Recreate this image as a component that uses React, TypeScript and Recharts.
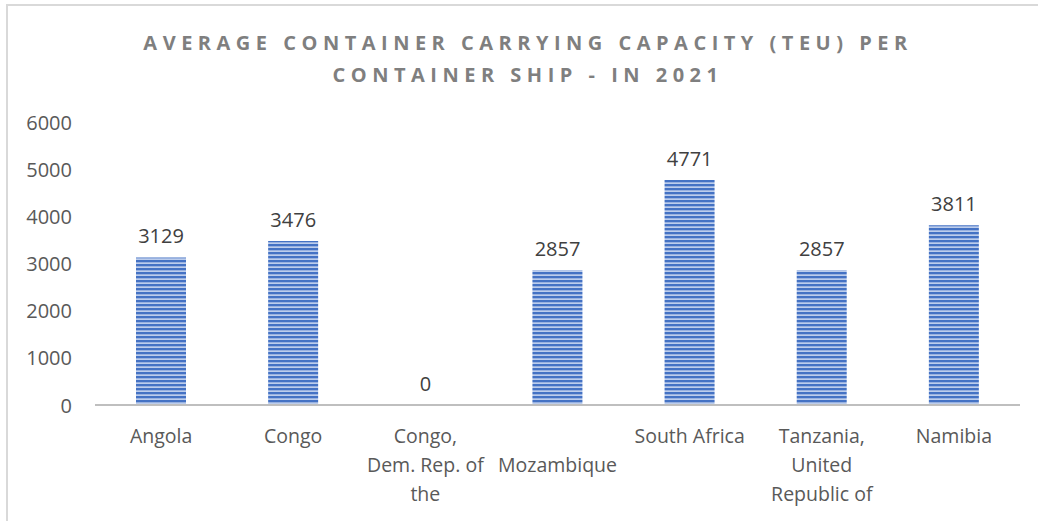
import { ComposedChart, Bar, Line, XAxis, YAxis, LabelList } from 'recharts';

const countries = [
  'Angola',
  'Congo',
  'Congo,\nDem. Rep. of\nthe',
  '\nMozambique',
  'South Africa',
  'Tanzania,\nUnited\nRepublic of',
  'Namibia',
];
const teu = [3129, 3476, 0, 2857, 4771, 2857, 3811];
const yTicks = [0, 1000, 2000, 3000, 4000, 5000, 6000];

const data = countries.map((name, i) => ({ name, teu: teu[i] }));

const FONT = '"Open Sans", sans-serif';

const CountryTick = (props: any) => {
  const { x, y, payload } = props;
  const lines = String(payload.value).split('\n');
  return (
    <text x={x} y={y + 30} textAnchor="middle" fill="#595959" fontSize={19.5} fontFamily={FONT}>
      {lines.map((l: string, i: number) => (
        <tspan key={i} x={x} dy={i === 0 ? 0 : 29}>
          {l}
        </tspan>
      ))}
    </text>
  );
};

const ValueTick = (props: any) => {
  const { y, payload } = props;
  return (
    <text x={72} y={y} textAnchor="end" dominantBaseline="central" fill="#595959" fontSize={20} fontFamily={FONT}>
      {payload.value}
    </text>
  );
};

export default function App() {
  return (
    <div style={{ position: 'absolute', left: 0, top: 0, width: 1038, height: 521, background: '#fff', overflow: 'hidden' }}>
      <div
        style={{
          position: 'absolute',
          left: 6,
          top: 4,
          right: -4,
          bottom: -4,
          borderLeft: '2px solid #d9d9d9',
          borderTop: '2px solid #d9d9d9',
        }}
      />
      <div
        style={{
          position: 'absolute',
          left: 0,
          width: 1056,
          top: 27,
          textAlign: 'center',
          fontFamily: FONT,
          fontWeight: 700,
          fontSize: 20,
          letterSpacing: 5.5,
          lineHeight: '32px',
          color: '#7f7f7f',
        }}
      >
        AVERAGE CONTAINER CARRYING CAPACITY (TEU) PER
        <br />
        CONTAINER SHIP - IN 2021
      </div>
      <ComposedChart
        width={1038}
        height={521}
        data={data}
        margin={{ top: 122, right: 18, bottom: 0, left: 0 }}
        barSize={50}
        style={{ position: 'absolute', left: 0, top: 0 }}
      >
        <defs>
          <pattern id="stripes" width="4" height="4" patternUnits="userSpaceOnUse">
            <rect width="4" height="4" fill="#bccdec" />
            <rect width="4" height="2.3" fill="#4472c4" />
          </pattern>
        </defs>
        <XAxis
          dataKey="name"
          interval={0}
          height={116}
          tickLine={false}
          axisLine={{ stroke: '#bfbfbf', strokeWidth: 2 }}
          tick={<CountryTick />}
        />
        <YAxis
          domain={[0, 6000]}
          ticks={yTicks}
          width={95}
          axisLine={false}
          tickLine={false}
          tick={<ValueTick />}
        />
        <Bar dataKey="teu" fill="url(#stripes)" isAnimationActive={false} />
        <Line dataKey="teu" stroke="none" dot={false} activeDot={false} isAnimationActive={false} legendType="none">
          <LabelList dataKey="teu" position="top" offset={14} fill="#404040" fontSize={20} fontFamily={FONT} />
        </Line>
      </ComposedChart>
    </div>
  );
}
